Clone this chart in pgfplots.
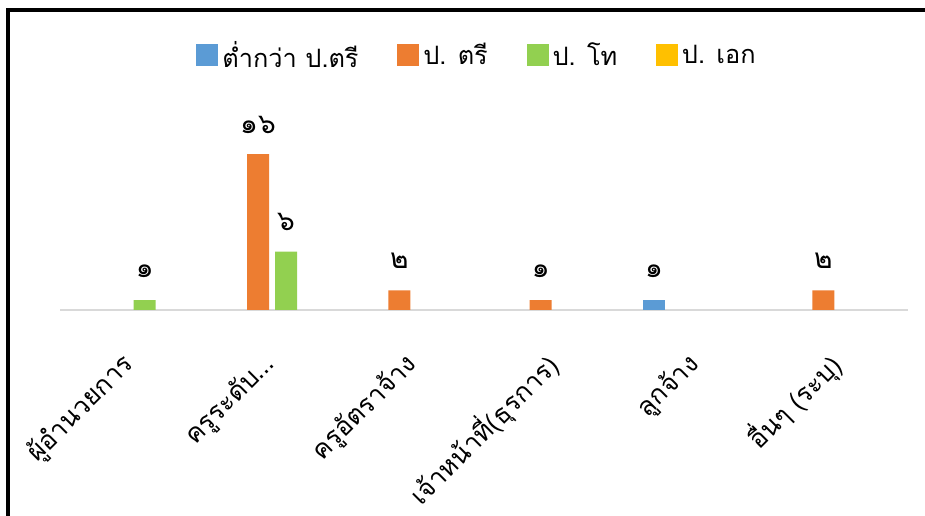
\documentclass[border=0pt]{standalone}
\usepackage{fontspec}
\usepackage{pgfplots}
\pgfplotsset{compat=1.18}
\newfontfamily\thaifont[Script=Thai]{Loma}
\definecolor{cBlue}{HTML}{5B9BD5}
\definecolor{cOrange}{HTML}{ED7D31}
\definecolor{cGreen}{HTML}{92D050}
\definecolor{cYellow}{HTML}{FFC000}
\definecolor{cAxis}{HTML}{D9D9D9}

\begin{document}
\begin{tikzpicture}[x=0.75pt,y=0.75pt]
\useasboundingbox (0,0) rectangle (925,516);
% frame of the chart area
\draw[line width=2.6pt] (8,0) -- (8,506) -- (925,506);

\begin{axis}[
    at={(45pt,154.5pt)}, anchor=south west,
    scale only axis,
    width=636pt, height=131.6pt,
    ybar=4.5pt, bar width=16.5pt,
    xmin=-0.5, xmax=5.5, ymin=0, ymax=18,
    axis x line*=bottom, axis y line=none,
    x axis line style={draw=cAxis, line width=1.2pt, -},
    xtick={0,1,2,3,4,5},
    xticklabels={{ผู้อำนวยการ}, {ครูระดับ\dots}, {ครูอัตราจ้าง}, {เจ้าหน้าที่(ธุรการ)}, {ลูกจ้าง}, {อื่นๆ (ระบุ)}},
    major tick length=0pt,
    xticklabel shift=37pt,
    xticklabel style={font=\thaifont\fontsize{19.5}{19.5}\selectfont, rotate=45, anchor=east, inner sep=1pt},
    nodes near coords,
    point meta=explicit symbolic,
    every node near coord/.append style={font=\thaifont\fontsize{21}{21}\selectfont, anchor=center, yshift=22pt},
    legend columns=-1,
    legend style={at={(0.493,1.453)}, anchor=center, draw=none, fill=none,
        font=\thaifont\fontsize{19}{19}\selectfont,
        nodes={inner sep=3pt},
        /tikz/every even column/.append style={column sep=26pt}},
    legend image code/.code={\fill[#1] (0pt,-8.2pt) rectangle (16.5pt,8.2pt);},
]
\addplot[fill=cBlue, draw=none] coordinates {(4,1) [๑]};
\addlegendentry{ต่ำกว่า ป.ตรี}
\addplot[fill=cOrange, draw=none] coordinates {(1,16) [๑๖] (2,2) [๒] (3,1) [๑] (5,2) [๒]};
\addlegendentry{ป. ตรี}
\addplot[fill=cGreen, draw=none] coordinates {(0,1) [๑] (1,6) [๖]};
\addlegendentry{ป. โท}
% no values for this level: the bar is kept only for its slot and legend key
\addplot[fill=cYellow, draw=none, fill opacity=0,
    legend image code/.code={\fill[cYellow, fill opacity=1] (0pt,-8.2pt) rectangle (16.5pt,8.2pt);}]
    coordinates {(0,0) []};
\addlegendentry{ป. เอก}
\end{axis}
\end{tikzpicture}
\end{document}
